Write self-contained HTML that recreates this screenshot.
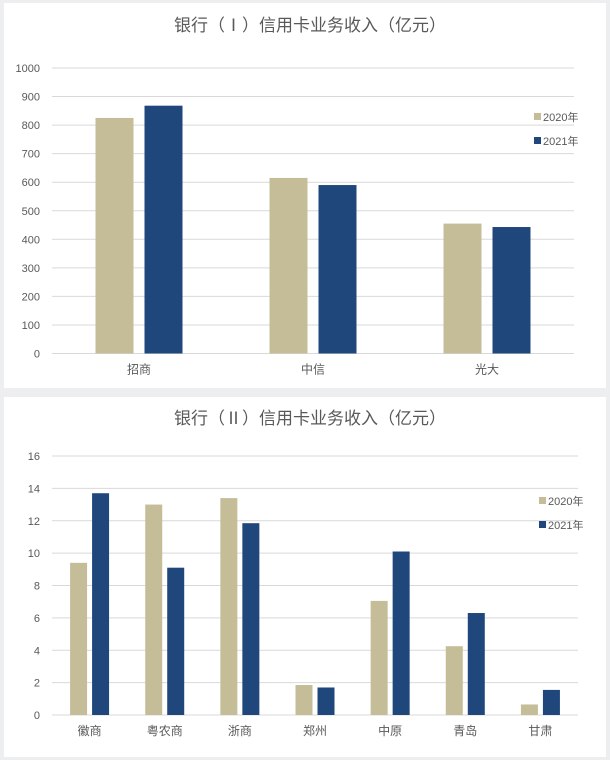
<!DOCTYPE html>
<html><head><meta charset="utf-8"><style>
body{margin:0;background:#eceef0;}
svg{display:block;font-family:"Liberation Sans","Noto Sans CJK SC",sans-serif;}
</style></head><body>
<svg id="s" width="610" height="760">
<rect x="0" y="0" width="610" height="760" fill="#eceef0"/>
<rect x="4" y="3" width="602" height="385" fill="#fff"/>
<rect x="4" y="397" width="602" height="360" fill="#fff"/>
<text x="310" y="31" text-anchor="middle" font-size="17" fill="#595959">银行（Ⅰ）信用卡业务收入（亿元）</text>
<text x="310" y="424" text-anchor="middle" font-size="17" fill="#595959">银行（Ⅱ）信用卡业务收入（亿元）</text>
</svg>
<script>
const cats1=["招商","中信","光大"];
const v1_2020=[825,615,455];
const v1_2021=[868,590,443];
const ticks1=[0,100,200,300,400,500,600,700,800,900,1000];
const cats2=["徽商","粤农商","浙商","郑州","中原","青岛","甘肃"];
const v2_2020=[9.4,13.0,13.4,1.85,7.05,4.25,0.65];
const v2_2021=[13.7,9.1,11.85,1.7,10.1,6.3,1.55];
const ticks2=[0,2,4,6,8,10,12,14,16];
const seriesNames=["2020年","2021年"];
const colors=["#c5bd98","#1f477c"];
const NS="http://www.w3.org/2000/svg";
const svg=document.getElementById('s');
function mk(tag,attrs,txt){const e=document.createElementNS(NS,tag);for(const k in attrs)e.setAttribute(k,attrs[k]);if(txt!==undefined)e.textContent=txt;svg.appendChild(e);return e;}
function chart(o){
  const y=v=>o.y0-(v-o.min)/(o.max-o.min)*(o.y0-o.y1);
  const step=(o.x1-o.x0)/o.cats.length;
  const x=i=>o.x0+step*(i+0.5);
  o.ticks.forEach(t=>{
    const l=mk('line',{x1:o.x0,x2:o.x1,y1:y(t),y2:y(t),stroke:'#d9d9d9','stroke-width':1});
    
    
    const tx=mk('text',{x:40,y:y(t)+4,'text-anchor':'end','font-size':11,fill:'#595959'},String(t));
    
    
  });
  o.cats.forEach((c,i)=>{
    [o.a,o.b].forEach((arr,s)=>{
      const bx=s===0?x(i)-o.gap/2-o.bw:x(i)+o.gap/2;
      const r=mk('rect',{x:bx,y:y(arr[i]),width:o.bw,height:y(0)-y(arr[i]),fill:colors[s]});
      
      
    });
    const t=mk('text',{x:x(i),y:o.y0+20,'text-anchor':'middle','font-size':12,fill:'#595959'},c);
    
    
  });
  seriesNames.forEach((n,s)=>{
    const ly=o.ly+s*o.ld;
    const r=mk('rect',{x:o.lx,y:ly-4,width:7,height:7,fill:colors[s]});
    
    
    const t=mk('text',{x:o.lx+9,y:ly+4,'font-size':11,fill:'#595959'},n);
    
    
  });
}
chart({id:'chart1',cats:cats1,a:v1_2020,b:v1_2021,ticks:ticks1,min:0,max:1000,y0:353.5,y1:68,x0:52,x1:574,bw:38,gap:11,lx:534,ly:117,ld:24});
chart({id:'chart2',cats:cats2,a:v2_2020,b:v2_2021,ticks:ticks2,min:0,max:16,y0:715,y1:456,x0:52,x1:578,bw:17,gap:5,lx:539,ly:501,ld:24});
</script>
</body></html>
